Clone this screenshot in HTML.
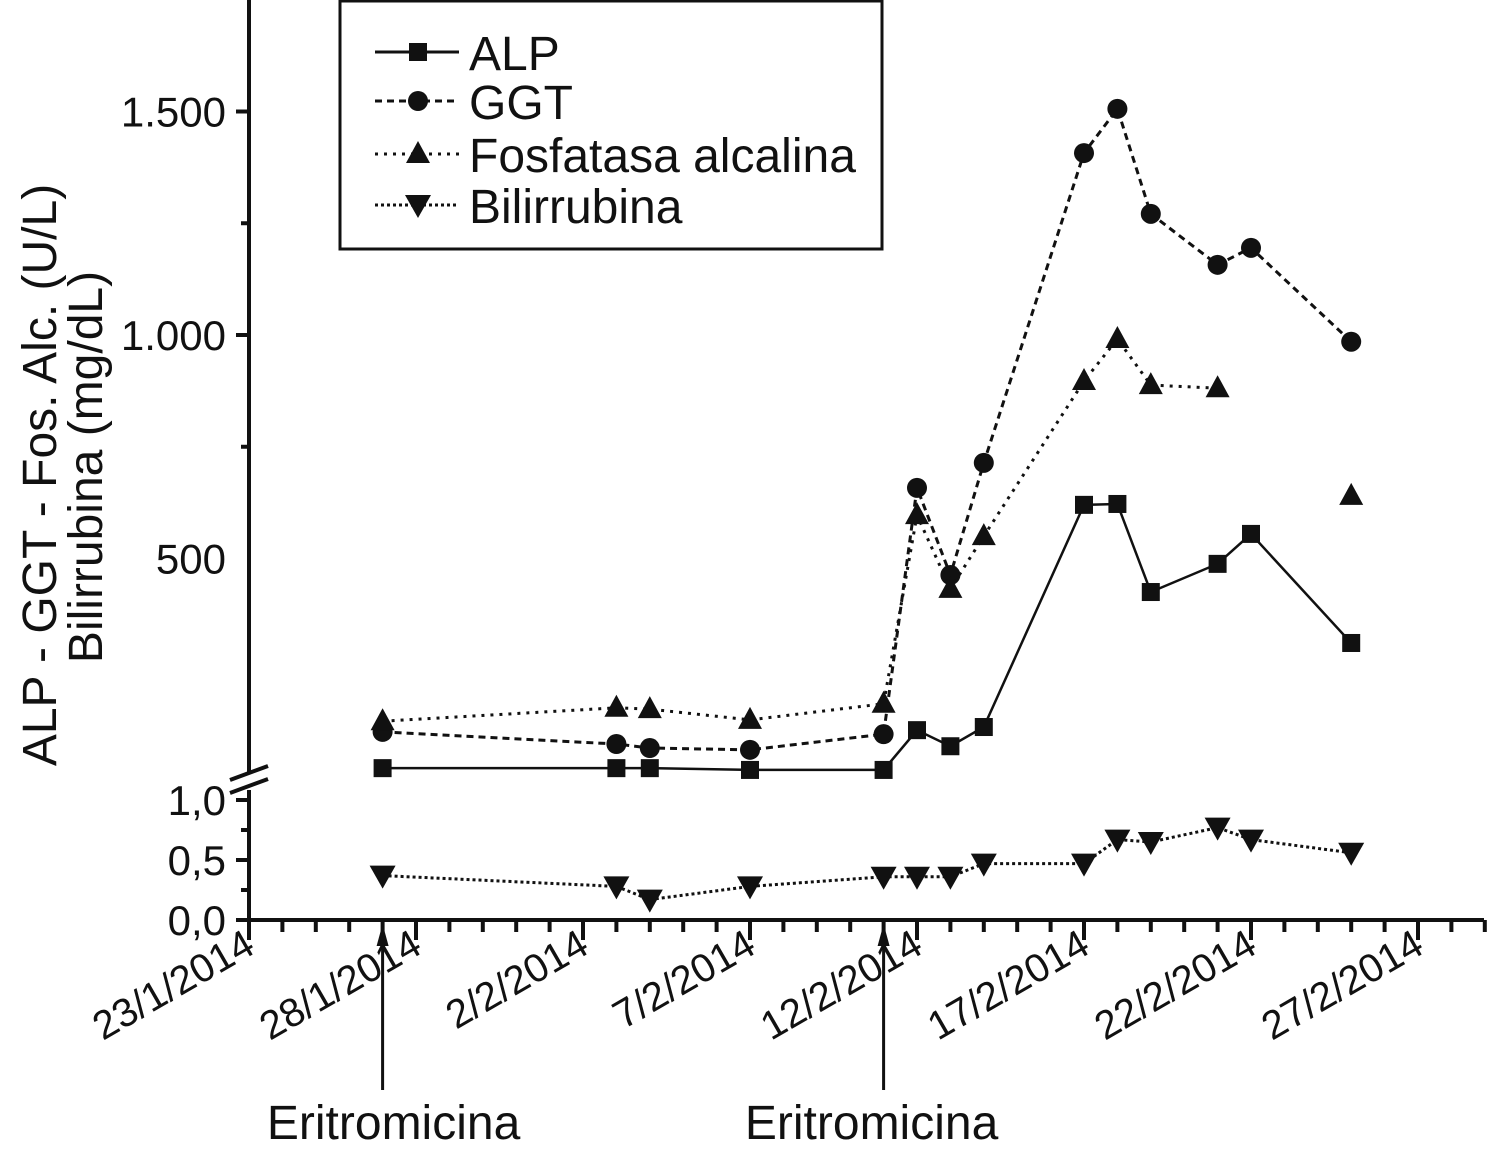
<!DOCTYPE html>
<html><head><meta charset="utf-8"><style>
body{margin:0;background:#fff}
svg text{font-family:"Liberation Sans",sans-serif;fill:#111}
</style></head><body>
<svg id="chart" width="1499" height="1162" viewBox="0 0 1499 1162" xmlns="http://www.w3.org/2000/svg"></svg>
<script>
const dates=[4,11,12,15,19,20,21,22,25,26,27,29,30,33];
const alp=[31,31,31,27,27,116,80,123,620,622,425,488,555,311];
const ggt=[112,85,76,72,107,658,463,714,1407,1506,1271,1157,1195,985];
const fosDates=[4,11,12,15,19,20,21,22,25,26,27,29];
const fos=[136,166,163,139,175,597,432,550,897,991,888,881];
const fosIsoDates=[33];
const fosIso=[640];
const bili=[0.37,0.28,0.17,0.28,0.36,0.36,0.36,0.47,0.47,0.67,0.65,0.77,0.67,0.56];
const xTickLabels=["23/1/2014","28/1/2014","2/2/2014","7/2/2014","12/2/2014","17/2/2014","22/2/2014","27/2/2014"];
const yUpperTicks=[500,1000,1500];
const yUpperLabels=["500","1.000","1.500"];
const yLowerTicks=[0,0.5,1.0];
const yLowerLabels=["0,0","0,5","1,0"];
const arrowDays=[4,19];

const NS="http://www.w3.org/2000/svg";
const svg=document.getElementById('chart');
const X=d=>249+d*33.4;
const YU=v=>782-v*0.447;
const YL=v=>920-v*120;
function el(t,a,p){const e=document.createElementNS(NS,t);for(const k in a)e.setAttribute(k,a[k]);(p||svg).appendChild(e);return e;}

let a=el('line',{x1:249,y1:0,x2:249,y2:774,stroke:'#111','stroke-width':4});

a=el('line',{x1:249,y1:790,x2:249,y2:922,stroke:'#111','stroke-width':4});

a=el('line',{x1:249,y1:920,x2:1484,y2:920,stroke:'#111','stroke-width':4});

el('path',{d:'M230 780 L268 766 M230 793 L268 779',stroke:'#111','stroke-width':4,fill:'none'});
for(let v=750;v<=1500;v+=250){const maj=v%500===0;el('line',{x1:maj?236:241,y1:YU(v),x2:249,y2:YU(v),stroke:'#111','stroke-width':4});}
yUpperTicks.forEach((v,i)=>{const t=el('text',{x:226,y:YU(v)+15,'text-anchor':'end','font-size':42});t.textContent=yUpperLabels[i];
});
for(let v=0;v<=1.0001;v+=0.25){const maj=Math.abs(v*2-Math.round(v*2))<1e-6;el('line',{x1:maj?236:241,y1:YL(v),x2:249,y2:YL(v),stroke:'#111','stroke-width':4});}
yLowerTicks.forEach((v,i)=>{const t=el('text',{x:226,y:YL(v)+15,'text-anchor':'end','font-size':42});t.textContent=yLowerLabels[i];
});
for(let d=0;d<=37;d++){const maj=d%5===0;el('line',{x1:X(d),y1:920,x2:X(d),y2:maj?940:932,stroke:'#111','stroke-width':4});}
xTickLabels.forEach((s,i)=>{const x=X(i*5)+8,y=952;const t=el('text',{x:x,y:y,'text-anchor':'end','font-size':40,transform:`rotate(-30 ${x} ${y})`});t.textContent=s;
});
let t=el('text',{x:0,y:0,'text-anchor':'middle','font-size':48,transform:'translate(56 475) rotate(-90)'});t.textContent='ALP - GGT - Fos. Alc. (U/L)';

t=el('text',{x:0,y:0,'text-anchor':'middle','font-size':48,transform:'translate(102 467) rotate(-90)'});t.textContent='Bilirrubina (mg/dL)';


function marker(type,x,y,g){
 if(type==='sq')return el('rect',{x:x-9,y:y-9,width:18,height:18,fill:'#111'},g);
 if(type==='ci')return el('circle',{cx:x,cy:y,r:10,fill:'#111'},g);
 if(type==='up')return el('polygon',{points:`${x},${y-13} ${x+12},${y+9} ${x-12},${y+9}`,fill:'#111'},g);
 return el('polygon',{points:`${x-13},${y-10} ${x+13},${y-10} ${x},${y+13}`,fill:'#111'},g);
}
function series(name,xs,vs,yf,dash,type){
 const g=el('g',{});
 const pts=xs.map((d,i)=>X(d)+','+yf(vs[i])).join(' ');
 const p=el('polyline',{points:pts,fill:'none',stroke:'#111','stroke-width':dash?3:2.5,'stroke-dasharray':dash||'none'},g);
 
 xs.forEach((d,i)=>{const m=marker(type,X(d),yf(vs[i]),g);});
}
series('alp-series',dates,alp,YU,null,'sq');
series('ggt-series',dates,ggt,YU,'7 5','ci');
series('fosfatasa-series',fosDates,fos,YU,'3 6','up');
series('fosfatasa-isolated',fosIsoDates,fosIso,YU,'3 6','up');
series('bilirrubina-series',dates,bili,YL,'3 3','dn');

const labelOffsets=[11,-12];
arrowDays.forEach((d,i)=>{const x=X(d);el('line',{x1:x,y1:1090,x2:x,y2:935,stroke:'#111','stroke-width':3});
 el('polygon',{points:`${x},924 ${x+6},946 ${x-6},946`,fill:'#111'});
 const tt=el('text',{x:x+labelOffsets[i],y:1139,'text-anchor':'middle','font-size':48});tt.textContent='Eritromicina';
 });

const lg=el('g',{});
el('rect',{x:340,y:1,width:542,height:248,fill:'#fff',stroke:'#111','stroke-width':3},lg);
const legNames=['ALP','GGT','Fosfatasa alcalina','Bilirrubina'];
const legTypes=['sq','ci','up','dn'];
const legDash=['none','7 5','3 6','3 3'];
const legY=[52,101,154,205];
legNames.forEach((n,i)=>{const g=el('g',{},lg);
 el('line',{x1:375,y1:legY[i],x2:459,y2:legY[i],stroke:'#111','stroke-width':3,'stroke-dasharray':legDash[i]},g);
 marker(legTypes[i],418,legY[i],g);
 const tx=el('text',{x:469,y:legY[i]+18,'font-size':48},g);tx.textContent=n;});
</script>
</body></html>
